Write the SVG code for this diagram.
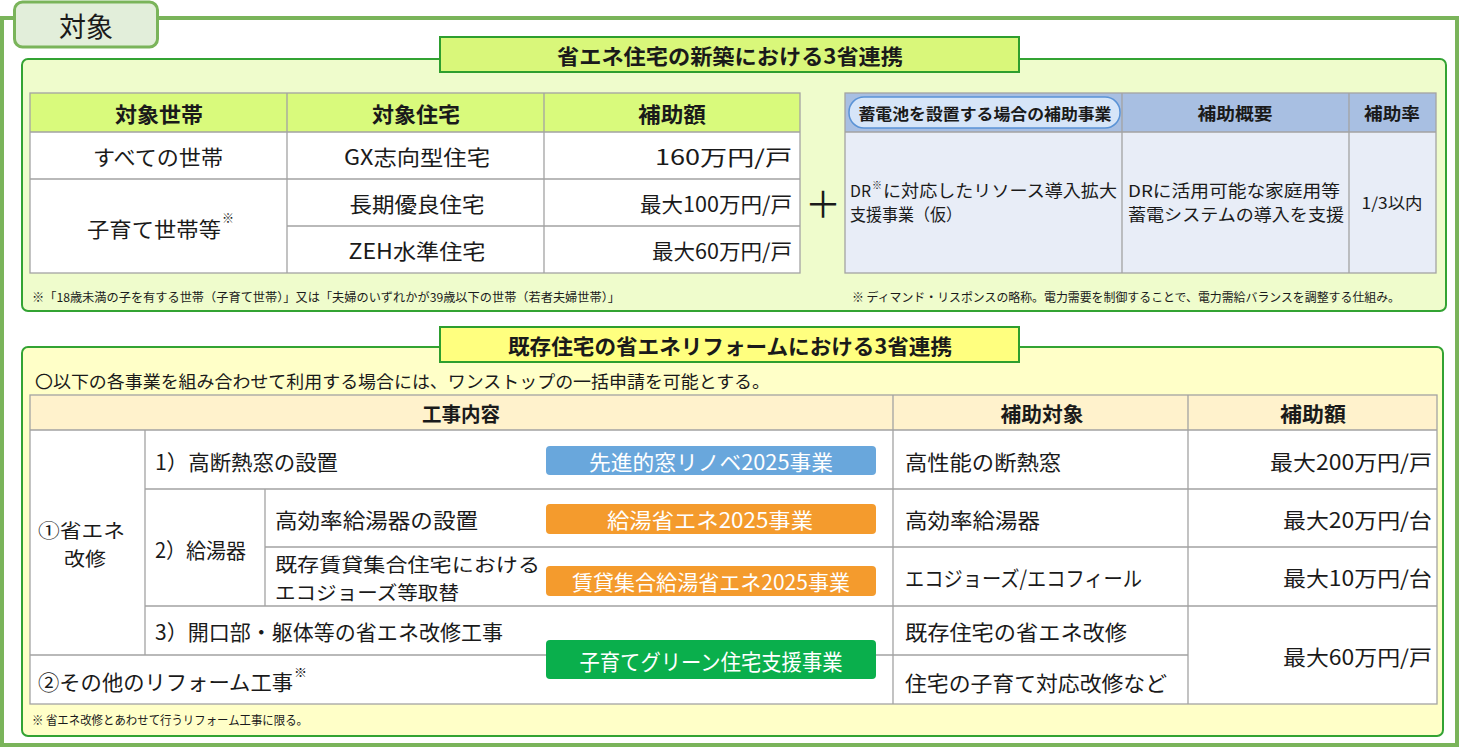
<svg xmlns="http://www.w3.org/2000/svg" width="1460" height="748" viewBox="0 0 1460 748">
<style>
.t{font-family:"Noto Sans CJK JP","Noto Sans",sans-serif;fill:#1a1a1a;dominant-baseline:central;}
.b{font-weight:bold;}
.c{text-anchor:middle;}
.r{text-anchor:end;}
.w{fill:#ffffff;}
.ln{stroke:#a3a3a3;stroke-width:1.3;fill:none;}
.sec{stroke:#33a333;stroke-width:2;}
.ttl{stroke:#2e9e2e;stroke-width:2;}
</style>
<rect width="1460" height="748" fill="#ffffff"/>
<g id="frame">
<rect x="2" y="18" width="1455" height="727" fill="#ffffff" stroke="#7ab45a" stroke-width="4"/>
</g>
<g id="tab">
<rect x="14.5" y="2" width="143" height="45" rx="8" fill="#e2eeda" stroke="#7ab45a" stroke-width="3"/>
<text class="t" x="86" y="25" font-size="27" text-anchor="middle">対象</text>
</g>
<g id="new-build">
<rect class="sec" x="22" y="59" width="1424" height="252" rx="6" fill="#effccc"/>
<g id="new-build-title">
<rect class="ttl" x="440" y="37" width="579" height="35" fill="#d9f77a"/>
<text class="t b c" x="730" y="55" font-size="21" textLength="346" lengthAdjust="spacingAndGlyphs">省エネ住宅の新築における3省連携</text>
</g>
<g id="new-build-table">
<rect x="30" y="93" width="770" height="39" fill="#d9fa7c"/>
<rect x="30" y="132" width="770" height="141" fill="#ffffff"/>
<rect class="ln" x="30" y="93" width="770" height="180"/>
<path class="ln" d="M30 132H800M30 179H800M287 226H800M287 93V273M544 93V273"/>
<text class="t b c" x="159" y="113" font-size="21" textLength="88" lengthAdjust="spacingAndGlyphs">対象世帯</text>
<text class="t b c" x="416" y="113" font-size="21" textLength="88" lengthAdjust="spacingAndGlyphs">対象住宅</text>
<text class="t b c" x="672" y="113" font-size="21" textLength="68" lengthAdjust="spacingAndGlyphs">補助額</text>
<text class="t c" x="158" y="156" font-size="21" textLength="130" lengthAdjust="spacingAndGlyphs">すべての世帯</text>
<text class="t c" x="417" y="156" font-size="21" textLength="146" lengthAdjust="spacingAndGlyphs">GX志向型住宅</text>
<text class="t r" x="792" y="156" font-size="21" textLength="137" lengthAdjust="spacingAndGlyphs">160万円/戸</text>
<text class="t" x="87" y="228" font-size="21"><tspan textLength="134" lengthAdjust="spacingAndGlyphs">子育て世帯等</tspan><tspan x="222" y="217" font-size="12">※</tspan></text>
<text class="t c" x="417" y="203" font-size="21" textLength="135" lengthAdjust="spacingAndGlyphs">長期優良住宅</text>
<text class="t r" x="792" y="203" font-size="21" textLength="152" lengthAdjust="spacingAndGlyphs">最大100万円/戸</text>
<text class="t c" x="417" y="250" font-size="21" textLength="137" lengthAdjust="spacingAndGlyphs">ZEH水準住宅</text>
<text class="t r" x="792" y="250" font-size="21" textLength="140" lengthAdjust="spacingAndGlyphs">最大60万円/戸</text>
</g>
<text class="t" x="823" y="202" font-size="36" text-anchor="middle">＋</text>
<g id="battery-table">
<rect x="845" y="93" width="591" height="39" fill="#a8bfe2"/>
<rect x="845" y="132" width="591" height="141" fill="#e8edf7"/>
<rect class="ln" x="845" y="93" width="591" height="180"/>
<path class="ln" d="M845 132H1436M1122 93V273M1349 93V273"/>
<rect x="849" y="97" width="271" height="31" rx="15" fill="#d6e5f8" stroke="#5a93d6" stroke-width="1.5"/>
<text class="t b c" x="985" y="112.5" font-size="16" textLength="253" lengthAdjust="spacingAndGlyphs">蓄電池を設置する場合の補助事業</text>
<text class="t b c" x="1235" y="112.5" font-size="17" textLength="75" lengthAdjust="spacingAndGlyphs">補助概要</text>
<text class="t b c" x="1392" y="112.5" font-size="17" textLength="56" lengthAdjust="spacingAndGlyphs">補助率</text>
<text class="t" font-size="16.5"><tspan x="850" y="190" textLength="21" lengthAdjust="spacingAndGlyphs">DR</tspan><tspan x="872" y="184" font-size="10">※</tspan><tspan x="883" y="190" textLength="234" lengthAdjust="spacingAndGlyphs">に対応したリソース導入拡大</tspan><tspan x="850" y="214" textLength="112" lengthAdjust="spacingAndGlyphs">支援事業（仮）</tspan></text>
<text class="t" font-size="16.5"><tspan x="1128" y="190" textLength="212" lengthAdjust="spacingAndGlyphs">DRに活用可能な家庭用等</tspan><tspan x="1128" y="214" textLength="216" lengthAdjust="spacingAndGlyphs">蓄電システムの導入を支援</tspan></text>
<text class="t c" x="1392" y="202" font-size="16" textLength="61" lengthAdjust="spacingAndGlyphs">1/3以内</text>
</g>
<text class="t" x="32" y="296" font-size="12" textLength="588" lengthAdjust="spacingAndGlyphs">※「18歳未満の子を有する世帯（子育て世帯）」又は「夫婦のいずれかが39歳以下の世帯（若者夫婦世帯）」</text>
<text class="t" x="852" y="296" font-size="12" textLength="548" lengthAdjust="spacingAndGlyphs">※ ディマンド・リスポンスの略称。電力需要を制御することで、電力需給バランスを調整する仕組み。</text>
</g>
<g id="reform">
<rect class="sec" x="22" y="347" width="1421" height="389" rx="6" fill="#ffffc8"/>
<g id="reform-title">
<rect class="ttl" x="440" y="327" width="579" height="35" fill="#ffff7f"/>
<text class="t b c" x="730" y="345" font-size="21" textLength="444" lengthAdjust="spacingAndGlyphs">既存住宅の省エネリフォームにおける3省連携</text>
</g>
<text class="t" x="35" y="380" font-size="17.5" textLength="735" lengthAdjust="spacingAndGlyphs">〇以下の各事業を組み合わせて利用する場合には、ワンストップの一括申請を可能とする。</text>
<g id="reform-table">
<rect x="30" y="395" width="1407" height="35" fill="#fff2cc"/>
<rect x="30" y="430" width="1407" height="274" fill="#ffffff"/>
<rect class="ln" x="30" y="395" width="1407" height="309"/>
<path class="ln" d="M30 430H1437M145 489H1437M265 547H1437M145 606H1437M30 655H1188M893 395V704M1188 395V704M145 430V655M265 489V606"/>
<text class="t b c" x="461" y="413" font-size="20" textLength="78" lengthAdjust="spacingAndGlyphs">工事内容</text>
<text class="t b c" x="1042" y="413" font-size="20" textLength="83" lengthAdjust="spacingAndGlyphs">補助対象</text>
<text class="t b c" x="1313" y="413" font-size="20" textLength="66" lengthAdjust="spacingAndGlyphs">補助額</text>
<text class="t" font-size="19"><tspan x="38" y="529" textLength="87" lengthAdjust="spacingAndGlyphs">①省エネ</tspan><tspan x="64" y="557" textLength="42" lengthAdjust="spacingAndGlyphs">改修</tspan></text>
<text class="t" x="155" y="461" font-size="21" textLength="183" lengthAdjust="spacingAndGlyphs">1）高断熱窓の設置</text>
<text class="t" x="155" y="549" font-size="21" textLength="91" lengthAdjust="spacingAndGlyphs">2）給湯器</text>
<text class="t" x="275" y="519" font-size="21" textLength="203" lengthAdjust="spacingAndGlyphs">高効率給湯器の設置</text>
<text class="t" font-size="19"><tspan x="275" y="563" textLength="265" lengthAdjust="spacingAndGlyphs">既存賃貸集合住宅における</tspan><tspan x="275" y="591" textLength="184" lengthAdjust="spacingAndGlyphs">エコジョーズ等取替</tspan></text>
<text class="t" x="155" y="631" font-size="21" textLength="348" lengthAdjust="spacingAndGlyphs">3）開口部・躯体等の省エネ改修工事</text>
<text class="t" font-size="21"><tspan x="38" y="681" textLength="255" lengthAdjust="spacingAndGlyphs">②その他のリフォーム工事</tspan><tspan x="294" y="671" font-size="13">※</tspan></text>
<text class="t" x="905" y="461" font-size="21" textLength="156" lengthAdjust="spacingAndGlyphs">高性能の断熱窓</text>
<text class="t" x="905" y="519" font-size="21" textLength="135" lengthAdjust="spacingAndGlyphs">高効率給湯器</text>
<text class="t" x="905" y="577" font-size="21" textLength="237" lengthAdjust="spacingAndGlyphs">エコジョーズ/エコフィール</text>
<text class="t" x="905" y="631" font-size="21" textLength="222" lengthAdjust="spacingAndGlyphs">既存住宅の省エネ改修</text>
<text class="t" x="905" y="682" font-size="21" textLength="262" lengthAdjust="spacingAndGlyphs">住宅の子育て対応改修など</text>
<text class="t r" x="1432" y="461" font-size="21" textLength="162" lengthAdjust="spacingAndGlyphs">最大200万円/戸</text>
<text class="t r" x="1432" y="519" font-size="21" textLength="149" lengthAdjust="spacingAndGlyphs">最大20万円/台</text>
<text class="t r" x="1432" y="577" font-size="21" textLength="149" lengthAdjust="spacingAndGlyphs">最大10万円/台</text>
<text class="t r" x="1432" y="656" font-size="21" textLength="149" lengthAdjust="spacingAndGlyphs">最大60万円/戸</text>
</g>
<g id="badge-window">
<rect x="546" y="446" width="330" height="29" rx="4" fill="#69a7dc"/>
<text class="t w c" x="711" y="461" font-size="21" textLength="244" lengthAdjust="spacingAndGlyphs">先進的窓リノベ2025事業</text>
</g>
<g id="badge-water">
<rect x="546" y="504" width="330" height="30" rx="4" fill="#f49b2d"/>
<text class="t w c" x="710" y="519" font-size="21" textLength="206" lengthAdjust="spacingAndGlyphs">給湯省エネ2025事業</text>
</g>
<g id="badge-rental">
<rect x="546" y="566" width="330" height="30" rx="4" fill="#f49b2d"/>
<text class="t w c" x="711" y="581" font-size="21" textLength="278" lengthAdjust="spacingAndGlyphs">賃貸集合給湯省エネ2025事業</text>
</g>
<g id="badge-green">
<rect x="546" y="640" width="330" height="39" rx="4" fill="#0aaf4c"/>
<text class="t w c" x="711" y="660" font-size="22" textLength="263" lengthAdjust="spacingAndGlyphs">子育てグリーン住宅支援事業</text>
</g>
<text class="t" x="32" y="719" font-size="12" textLength="276" lengthAdjust="spacingAndGlyphs">※  省エネ改修とあわせて行うリフォーム工事に限る。</text>
</g>
<g id="connectors"/>
</svg>
